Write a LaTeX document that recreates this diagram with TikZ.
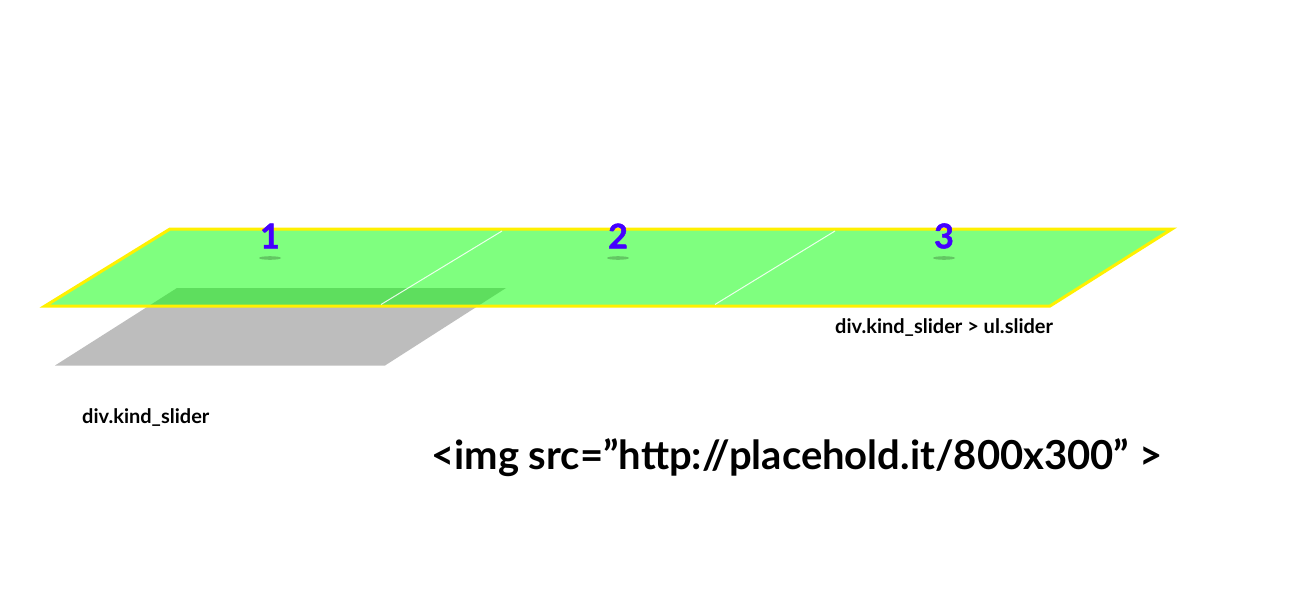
\documentclass[tikz,border=0pt]{standalone}
\usepackage{fontspec}
\setmainfont{Lato}
\newfontfamily\numfont{Lato}[BoldFeatures={FakeBold=1.5}]
\definecolor{numblue}{RGB}{68,0,255}
\definecolor{slidegray}{RGB}{189,189,189}
\definecolor{edgeyellow}{RGB}{255,240,0}
\begin{document}
\begin{tikzpicture}[x=1pt,y=-1pt,
  num/.style={font=\numfont\fontsize{34}{34}\selectfont\bfseries, text=numblue, inner sep=0pt},
  lbl/.style={font=\fontsize{20}{20}\selectfont\bfseries, inner sep=0pt, anchor=west},
  big/.style={font=\fontsize{40}{40}\selectfont\bfseries, inner sep=0pt, anchor=west},
  shadow/.style={fill=black, opacity=0.22}]
\useasboundingbox (0,0) rectangle (1297,615);
\fill[white] (0,0) rectangle (1297,615);
% gray slider box
\fill[slidegray] (177,288) -- (506,288) -- (385,365.5) -- (55,365.5) -- cycle;
% green strip
\fill[green, fill opacity=0.5] (170,229) -- (1172,229) -- (1050,306) -- (45,306) -- cycle;
\draw[edgeyellow, line width=3pt, line join=miter] (170,229) -- (1172,229) -- (1050,306) -- (45,306) -- cycle;
% dividers
\draw[white, line width=1pt, opacity=0.85] (502,231) -- (381,304.5);
\draw[white, line width=1pt, opacity=0.85] (835,231) -- (715,304.5);
% number shadows
\fill[shadow] (270,258) ellipse (11 and 1.8);
\fill[shadow] (618,258) ellipse (11 and 1.8);
\fill[shadow] (944,258) ellipse (11 and 1.8);
% numbers
\node[num] (n1) at (270,236) {1};
\node[num] (n2) at (618,236) {2};
\node[num] (n3) at (944,236) {3};
% labels
\node[lbl] (ul) at (835,328) {div.kind\_slider > ul.slider};
\node[lbl] (div) at (82,418) {div.kind\_slider};
\node[big] (img) at (431,458) {<img src=”http://placehold.it/800x300” >};
\end{tikzpicture}
\end{document}
